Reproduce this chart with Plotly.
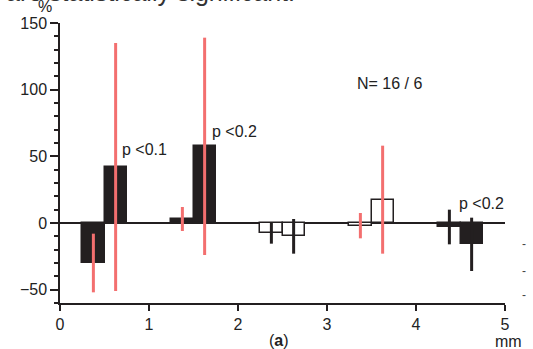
import plotly.graph_objects as go

# ---- data ----
x_centers = [0.375, 0.625, 1.375, 1.625, 2.375, 2.625, 3.375, 3.625, 4.375, 4.625]
values = [-30, 42, 3, 57.5, -7.5, -10, -2, 17.5, -3, -16]
errors = [22, 93, 9, 81.5, 8, 13, 9.5, 40.5, 13, 20]
fill_style = ["black", "black", "black", "black", "white", "white", "white", "white", "black", "black"]
err_style = ["red", "red", "red", "red", "black", "black", "red", "red", "black", "black"]

y_ticks = [-50, 0, 50, 100, 150]
x_ticks = [0, 1, 2, 3, 4, 5]

notes_text = ["p <0.1", "p <0.2", "N= 16 / 6", "p <0.2"]
notes_x = [0.67, 1.68, 3.31, 4.46]
notes_y = [55, 69, 104.5, 14.5]

BLACK = "#231f20"
RED = "#f36f6f"
FONT = "Liberation Sans, Arial, Helvetica, sans-serif"

fig = go.Figure()

combos = {}
for i in range(len(values)):
    combos.setdefault((fill_style[i], err_style[i]), []).append(i)

for (fs, es), idx in combos.items():
    fig.add_trace(go.Bar(
        x=[x_centers[i] for i in idx],
        y=[values[i] for i in idx],
        width=0.25,
        marker=dict(color=BLACK if fs == "black" else "white",
                    line=dict(color=BLACK, width=1.5)),
        error_y=dict(type="data", array=[errors[i] for i in idx], visible=True,
                     color=RED if es == "red" else BLACK, thickness=3, width=0),
        showlegend=False,
        hoverinfo="skip",
    ))

for t, xx, yy in zip(notes_text, notes_x, notes_y):
    fig.add_annotation(x=xx, y=yy, text=t, showarrow=False, xanchor="left",
                       yanchor="middle", font=dict(size=16, color="#222", family=FONT))

fig.update_layout(
    width=533, height=349,
    margin=dict(l=60, r=28, t=23, b=46, pad=0),
    paper_bgcolor="white", plot_bgcolor="white",
    font=dict(family=FONT, size=16, color="#222"),
    bargap=0,
)

fig.update_xaxes(range=[0, 5], tickvals=x_ticks, ticks="outside", ticklen=6, tickwidth=1.5,
                 tickcolor=BLACK, showline=True, linecolor=BLACK, linewidth=1.5,
                 showgrid=False, zeroline=False, tickfont=dict(size=16))
fig.update_yaxes(range=[-60, 150], tickvals=y_ticks, ticks="outside", ticklen=8, tickwidth=1.5,
                 tickcolor=BLACK, showline=True, linecolor=BLACK, linewidth=1.5,
                 showgrid=False, zeroline=True, zerolinecolor=BLACK, zerolinewidth=1.5,
                 minor=dict(tickmode="linear", tick0=0, dtick=10, ticks="outside", ticklen=4,
                            tickwidth=1.5, tickcolor=BLACK, showgrid=False),
                 tickfont=dict(size=16))

# axis / panel labels
fig.add_annotation(xref="paper", yref="paper", x=-0.034, y=1.06, text="%", showarrow=False,
                   xanchor="center", yanchor="middle", font=dict(size=16, color="#222"))
fig.add_annotation(xref="paper", yref="paper", x=0.493, y=-0.135, text="(<b>a</b>)", showarrow=False,
                   xanchor="center", yanchor="middle", font=dict(size=16, color="#222"))
fig.add_annotation(xref="paper", yref="paper", x=1.007, y=-0.139, text="mm", showarrow=False,
                   xanchor="center", yanchor="middle", font=dict(size=16, color="#222"))
# clipped caption line at top of the page
fig.add_annotation(xref="paper", yref="paper", x=(297 - 60) / 445, y=1.054,
                   text="are statistically significant.", showarrow=False,
                   xanchor="right", yanchor="bottom", font=dict(size=25, color="#333"))
# stray tick marks from neighbouring panel at right edge
for yy in [0.209, 0.114, 0.029]:
    fig.add_annotation(xref="paper", yref="paper", x=(524 - 60) / 445, y=yy, text="-",
                       showarrow=False, xanchor="center", yanchor="middle",
                       font=dict(size=12, color="#444"))

fig.write_html("out.html", config={"displayModeBar": False},
               post_script="document.body.style.margin='0px';")
